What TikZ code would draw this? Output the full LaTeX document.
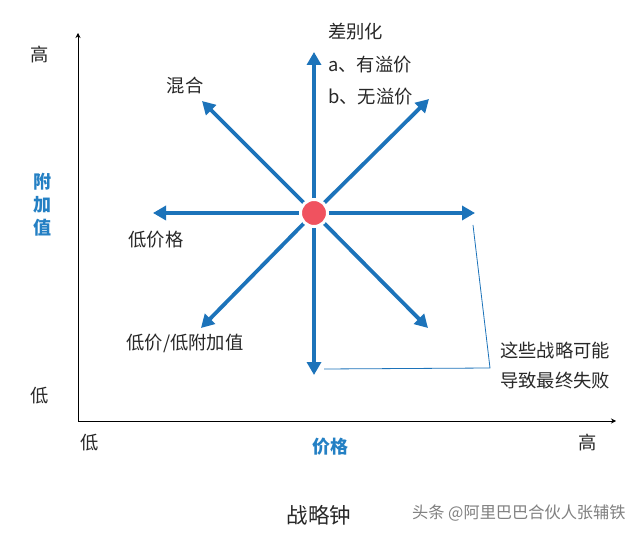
\documentclass[tikz,border=0pt]{standalone}
\usepackage{fontspec}
\setmainfont{Noto Sans CJK SC}
\usetikzlibrary{arrows.meta}
\definecolor{arrowblue}{RGB}{28,115,186}
\definecolor{labelblue}{RGB}{36,128,196}
\definecolor{dotred}{RGB}{240,82,95}
\definecolor{txtgray}{RGB}{40,40,40}
\tikzset{
  axis/.style={line width=1pt, draw=black, -{Stealth[length=5pt,width=5pt]}},
  strat/.style={line width=3.8pt, draw=arrowblue, -{Triangle[length=13pt,width=14pt]}, shorten <=2pt},
  thin/.style={line width=0.8pt, draw=arrowblue},
  lbl/.style={font=\fontsize{18.3}{20}\selectfont, text=txtgray, inner sep=0pt},
  axlbl/.style={font=\fontsize{18}{20}\selectfont\bfseries, text=labelblue, inner sep=0pt},
}
\begin{document}
\begin{tikzpicture}[x=1pt,y=-1pt]
\useasboundingbox[fill=white] (0,0) rectangle (640,537);
% axes
\coordinate (o) at (78,421);
\coordinate (ytop) at (78,33);
\coordinate (xend) at (616,421);
\draw[axis] (o) -- (ytop);
\draw[axis] (o) -- (xend);
% strategy arrows
\coordinate (c) at (314,213);
\coordinate (tN) at (314,52);
\coordinate (tS) at (314,375);
\coordinate (tW) at (153,213);
\coordinate (tE) at (475,213);
\coordinate (tNW) at (202,101);
\coordinate (tNE) at (429,99);
\coordinate (tSW) at (201,328);
\coordinate (tSE) at (428,328);
\foreach \t in {tN,tS,tW,tE,tNW,tNE,tSW,tSE}{\draw[strat] (c) -- (\t);}
\node[circle, fill=dotred, draw=white, line width=3pt, minimum size=27pt, inner sep=0pt] (dot) at (c) {};
% thin bracket line
\coordinate (b1) at (473,225);
\coordinate (b2) at (490,368);
\coordinate (b3) at (324,369);
\draw[thin] (b1) -- (b2) -- (b3);
% labels
\node[lbl, anchor=west] (diff) at (328,32) {差别化};
\node[lbl, anchor=west] (diffa) at (328,65) {a、有溢价};
\node[lbl, anchor=west] (diffb) at (328,97) {b、无溢价};
\node[lbl] (mix) at (185,86) {混合};
\node[lbl] (lowp) at (156,240) {低价格};
\node[lbl] (lowpv) at (185,343) {低价/低附加值};
\node[lbl, anchor=west] (fail1) at (500,351) {这些战略可能};
\node[lbl, anchor=west] (fail2) at (500,381) {导致最终失败};
\node[lbl] (yhi) at (40,55) {高};
\node[lbl] (ylo) at (40,396) {低};
\node[lbl] (xlo) at (90,443) {低};
\node[lbl] (xhi) at (588,443) {高};
\node[axlbl, align=center, font=\fontsize{18}{23}\selectfont\bfseries] (yl) at (42,205) {附\\加\\值};
\node[axlbl] (xl) at (330,447) {价格};
\node[lbl, font=\fontsize{21.5}{23}\selectfont] (title) at (319,515) {战略钟};
\node[lbl, anchor=west, text=gray, font=\fontsize{16.2}{18}\selectfont] (wm) at (412,513) {头条 @阿里巴巴合伙人张辅铁};
\end{tikzpicture}
\end{document}
